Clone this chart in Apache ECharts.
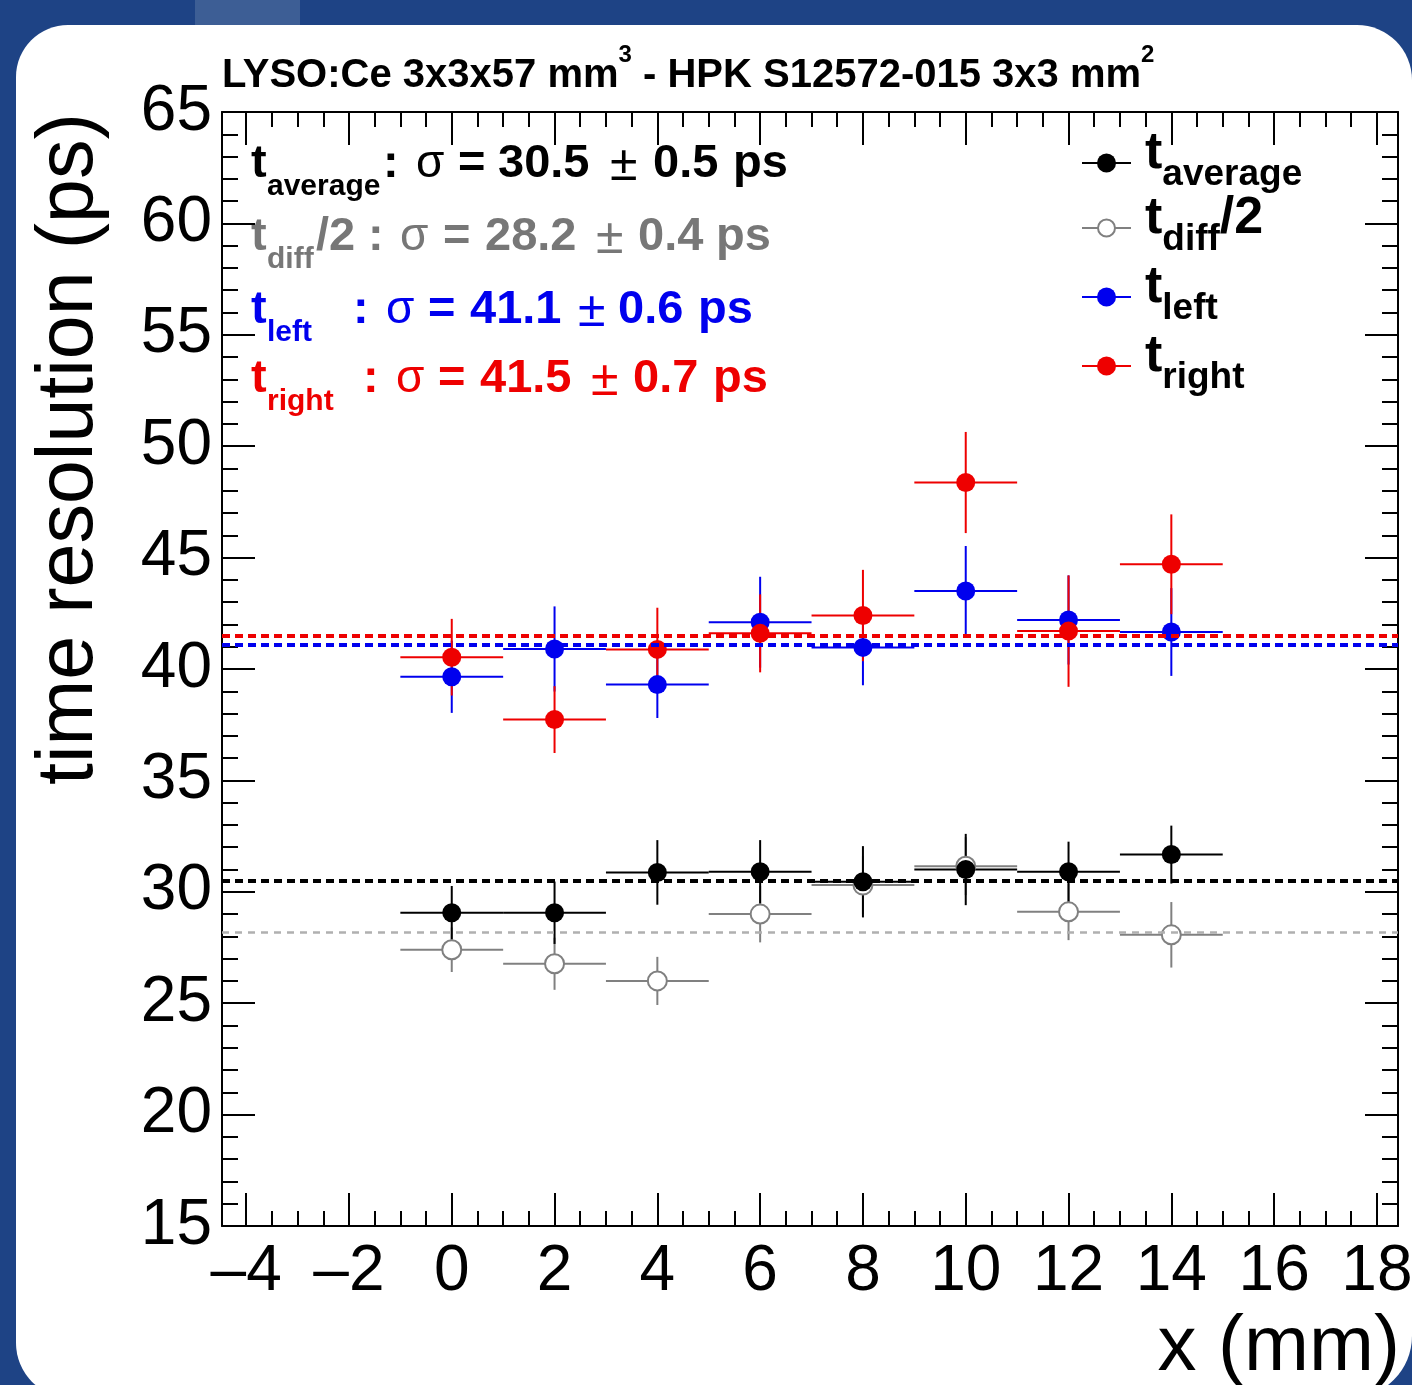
<!DOCTYPE html>
<html>
<head>
<meta charset="utf-8">
<script src="https://cdn.jsdelivr.net/npm/echarts@6/dist/echarts.min.js"></script>
<style>
html,body{margin:0;padding:0;background:#1e4385;overflow:hidden;}
#chart{width:1412px;height:1385px;}
</style>
</head>
<body>
<div id="chart"></div>
<script>
// ---------------- data ----------------
const positions = [0, 2, 4, 6, 8, 10, 12, 14];
const halfWidth = [1, 1, 1, 1, 1, 1, 1, 1];

const tAverage    = [29.06, 29.06, 30.87, 30.90, 30.45, 31.00, 30.90, 31.67];
const tAverageErr = [1.20, 1.40, 1.45, 1.42, 1.60, 1.60, 1.35, 1.30];

const tDiffHalf    = [27.40, 26.77, 26.00, 29.00, 30.30, 31.15, 29.10, 28.07];
const tDiffHalfErr = [1.00, 1.17, 1.08, 1.27, 1.30, 1.30, 1.27, 1.47];

const tLeft    = [39.65, 40.90, 39.30, 42.10, 40.97, 43.50, 42.20, 41.66];
const tLeftErr = [1.62, 1.91, 1.50, 2.04, 1.70, 2.02, 2.00, 1.97];

const tRight    = [40.53, 37.73, 40.88, 41.60, 42.40, 48.37, 41.70, 44.70];
const tRightErr = [1.72, 1.50, 1.87, 1.75, 2.05, 2.27, 2.50, 2.24];

const fitSigma    = [30.5, 28.2, 41.1, 41.5];   // average, diff/2, left, right
const fitSigmaErr = [0.5, 0.4, 0.6, 0.7];

const seriesNames = ['t_average', 't_diff/2', 't_left', 't_right'];
const legendSubs  = ['average', 'diff', 'left', 'right'];

const xMajorTicks = [-4, -2, 0, 2, 4, 6, 8, 10, 12, 14, 16, 18];
const xMinorTicks = [-4, -3.5, -3, -2.5, -2, -1.5, -1, -0.5, 0, 0.5, 1, 1.5, 2, 2.5, 3, 3.5,
                     4, 4.5, 5, 5.5, 6, 6.5, 7, 7.5, 8, 8.5, 9, 9.5, 10, 10.5, 11, 11.5,
                     12, 12.5, 13, 13.5, 14, 14.5, 15, 15.5, 16, 16.5, 17, 17.5, 18];
const X_MIN = -4.47, X_MAX = 18.41;
const Y_MIN = 15, Y_MAX = 65, Y_STEP = 5;

// ---------------- style ----------------
const FONT = '"Liberation Sans", Arial, Helvetica, sans-serif';
const C_BLACK = '#000000', C_GREY = '#808080', C_BLUE = '#0000ee', C_RED = '#ee0000';
const C_GREY_TEXT = '#777777', C_GREY_FIT = '#b0b0b0';

function errorSeries(name, ys, errs, color, lw) {
  return {
    type: 'custom', name: name + ' err', xAxisIndex: 0, yAxisIndex: 0,
    silent: true, clip: false,
    data: positions.map((x, i) => [x, ys[i], halfWidth[i], errs[i]]),
    encode: { x: 0, y: 1 },
    renderItem: function (params, api) {
      const x = api.value(0), y = api.value(1), ex = api.value(2), ey = api.value(3);
      const l = api.coord([x - ex, y]), r = api.coord([x + ex, y]);
      const t = api.coord([x, y + ey]), b = api.coord([x, y - ey]);
      return { type: 'group', children: [
        { type: 'line', shape: { x1: l[0], y1: l[1], x2: r[0], y2: r[1] }, style: { stroke: color, lineWidth: lw } },
        { type: 'line', shape: { x1: t[0], y1: t[1], x2: b[0], y2: b[1] }, style: { stroke: color, lineWidth: lw } }
      ]};
    }
  };
}

function pointSeries(name, ys, itemStyle, fit, fitStyle) {
  return {
    type: 'scatter', name: name, xAxisIndex: 0, yAxisIndex: 0,
    symbol: 'circle', symbolSize: 19,
    data: positions.map((x, i) => [x, ys[i]]),
    itemStyle: Object.assign({ opacity: 1 }, itemStyle),
    emphasis: { disabled: true },
    markLine: {
      silent: true, symbol: 'none', label: { show: false }, animation: false,
      lineStyle: fitStyle,
      data: [{ yAxis: fit }]
    }
  };
}

const tickLine = { color: C_BLACK, width: 2 };
const xBase = { type: 'value', min: X_MIN, max: X_MAX, splitLine: { show: false } };
function xAxisDef(pos, major) {
  return Object.assign({}, xBase, {
    position: pos,
    axisLine: { show: major, onZero: false, lineStyle: { color: C_BLACK, width: 2 } },
    axisTick: { show: true, inside: true, length: major ? 33 : 15,
                customValues: major ? xMajorTicks : xMinorTicks, lineStyle: tickLine },
    axisLabel: (pos === 'bottom' && major) ? {
      show: true, customValues: xMajorTicks, margin: 14,
      fontSize: 64, fontFamily: FONT, color: C_BLACK,
      formatter: v => (v < 0 ? '\u2013' + Math.abs(v) : String(v))
    } : { show: false }
  });
}
function yAxisDef(pos) {
  return {
    type: 'value', min: Y_MIN, max: Y_MAX, interval: Y_STEP, position: pos,
    splitLine: { show: false }, minorSplitLine: { show: false },
    axisLine: { show: true, onZero: false, lineStyle: { color: C_BLACK, width: 2 } },
    axisTick: { show: true, inside: true, length: 33, lineStyle: tickLine },
    minorTick: { show: true, splitNumber: 5, length: 16, lineStyle: tickLine },
    axisLabel: pos === 'left' ? { show: true, margin: 10, fontSize: 64, fontFamily: FONT, color: C_BLACK } : { show: false }
  };
}

// ---- rich text builder: segments [text, kind, left x (optional)] ----
const KIND = {
  M: { font: 'bold 47px ' + FONT, lineHeight: 47 },
  S: { font: 'bold 30px ' + FONT, lineHeight: 30, padding: [30.4, 0, 0, 0] },
  G: { font: '46px ' + FONT, lineHeight: 46 },
  P: { font: '50px ' + FONT, lineHeight: 45 },
  LT: { font: 'bold 52px ' + FONT, lineHeight: 52 },
  LS: { font: 'bold 37px ' + FONT, lineHeight: 37, padding: [29.2, 0, 0, 0] }
};
function richText(segs, x, top, color) {
  const rich = {};
  let text = '';
  segs.forEach((sg, i) => {
    const st = Object.assign({ verticalAlign: 'top', align: 'left' }, KIND[sg[1]]);
    if (sg[2] != null && i < segs.length - 1 && segs[i + 1][2] != null) st.width = segs[i + 1][2] - sg[2];
    rich['k' + i] = st;
    text += '{k' + i + '|' + sg[0] + '}';
  });
  return {
    type: 'text', x: x, y: top, z: 100, silent: true,
    style: { text: text, fill: color, align: 'left', verticalAlign: 'top', font: KIND.M.font, rich: rich }
  };
}
const f1 = v => v.toFixed(1);
const annSegs = [
  [['t','M',251],['average','S',267],[':','M',383],['\u03c3','G',416],['=','M',458],[f1(fitSigma[0]),'M',498],['\u00b1','P',610],[f1(fitSigmaErr[0]),'M',653],['ps','M',733]],
  [['t','M',251],['diff','S',267],['/2','M',316],[':','M',368],['\u03c3','G',400],['=','M',443],[f1(fitSigma[1]),'M',485],['\u00b1','P',596],[f1(fitSigmaErr[1]),'M',638],['ps','M',716]],
  [['t','M',251],['left','S',267],[':','M',353],['\u03c3','G',386],['=','M',428],[f1(fitSigma[2]),'M',470],['\u00b1','P',578],[f1(fitSigmaErr[2]),'M',618],['ps','M',698]],
  [['t','M',251],['right','S',267],[':','M',363],['\u03c3','G',396],['=','M',438],[f1(fitSigma[3]),'M',480],['\u00b1','P',591],[f1(fitSigmaErr[3]),'M',633],['ps','M',713]]
];
const annColors = [C_BLACK, C_GREY_TEXT, C_BLUE, C_RED];
const annTops = [141, 214, 287, 356];

// ---- legend (ROOT TLegend style) ----
const legendRowY = [163, 228, 297, 366];
const legendColors = [C_BLACK, C_GREY, C_BLUE, C_RED];
const legendHollow = [false, true, false, false];
function legendRow(i) {
  const y = legendRowY[i], c = legendColors[i];
  const segs = [['t', 'LT'], [legendSubs[i], 'LS']];
  if (seriesNames[i] === 't_diff/2') segs.push(['/2', 'LT']);
  return [
    { type: 'line', z: 100, silent: true, shape: { x1: 1082, y1: y, x2: 1131, y2: y }, style: { stroke: c, lineWidth: 2 } },
    { type: 'circle', z: 101, silent: true, shape: { cx: 1106.5, cy: y, r: legendHollow[i] ? 8.5 : 9.5 },
      style: legendHollow[i] ? { fill: '#ffffff', stroke: c, lineWidth: 2 } : { fill: c } },
    richText(segs, 1145, y + 8.5 - 44, C_BLACK)
  ];
}

const chart = echarts.init(document.getElementById('chart'), null, { renderer: 'canvas' });
chart.setOption({
  animation: false,
  backgroundColor: '#1e4385',
  title: {
    text: '{a|LYSO:Ce 3x3x57 mm}{p|3}{a| - HPK S12572-015 3x3 mm}{p|2}',
    left: 222, top: 43, padding: 0,
    textStyle: {
      rich: {
        a: { fontSize: 40, fontWeight: 'bold', fontFamily: FONT, color: C_BLACK, lineHeight: 40, verticalAlign: 'top', padding: [13, 0, 0, 0] },
        p: { fontSize: 24, fontWeight: 'bold', fontFamily: FONT, color: C_BLACK, lineHeight: 24, verticalAlign: 'top' }
      }
    }
  },
  grid: { left: 222, top: 112, right: 14, bottom: 159, containLabel: false, outerBoundsMode: 'none' },
  xAxis: [xAxisDef('bottom', true), xAxisDef('bottom', false), xAxisDef('top', true), xAxisDef('top', false)],
  yAxis: [yAxisDef('left'), yAxisDef('right')],
  graphic: [
    { type: 'rect', z: -100, silent: true, shape: { x: 195, y: 0, width: 105, height: 25 }, style: { fill: '#3d5e95' } },
    { type: 'rect', z: -100, silent: true, shape: { x: 16, y: 25, width: 1396, height: 1373, r: [52, 55, 62, 55] }, style: { fill: '#ffffff' } },
    { type: 'text', z: 100, silent: true, x: 70, y: 785, rotation: Math.PI / 2,
      style: { text: 'time resolution (ps)', font: '79px ' + FONT, fill: C_BLACK, align: 'left', verticalAlign: 'middle' } },
    { type: 'text', z: 100, silent: true, x: 1400, y: 1348,
      style: { text: 'x (mm)', font: '78px ' + FONT, fill: C_BLACK, align: 'right', verticalAlign: 'middle' } }
  ].concat(annSegs.map((s, i) => richText(s, s[0][2], annTops[i], annColors[i])))
   .concat(legendRow(0), legendRow(1), legendRow(2), legendRow(3)),
  series: [
    errorSeries('t_diff/2', tDiffHalf, tDiffHalfErr, C_GREY, 2),
    pointSeries('t_diff/2', tDiffHalf, { color: '#ffffff', borderColor: C_GREY, borderWidth: 2 }, fitSigma[1],
      { color: C_GREY_FIT, width: 2.5, type: [7, 6] }),
    errorSeries('t_average', tAverage, tAverageErr, C_BLACK, 2),
    pointSeries('t_average', tAverage, { color: C_BLACK }, fitSigma[0],
      { color: C_BLACK, width: 4, type: [8, 5] }),
    errorSeries('t_left', tLeft, tLeftErr, C_BLUE, 2),
    pointSeries('t_left', tLeft, { color: C_BLUE }, fitSigma[2],
      { color: C_BLUE, width: 4, type: [8, 5] }),
    errorSeries('t_right', tRight, tRightErr, C_RED, 2),
    pointSeries('t_right', tRight, { color: C_RED }, fitSigma[3],
      { color: C_RED, width: 4, type: [8, 5] })
  ]
});
</script>
</body>
</html>
